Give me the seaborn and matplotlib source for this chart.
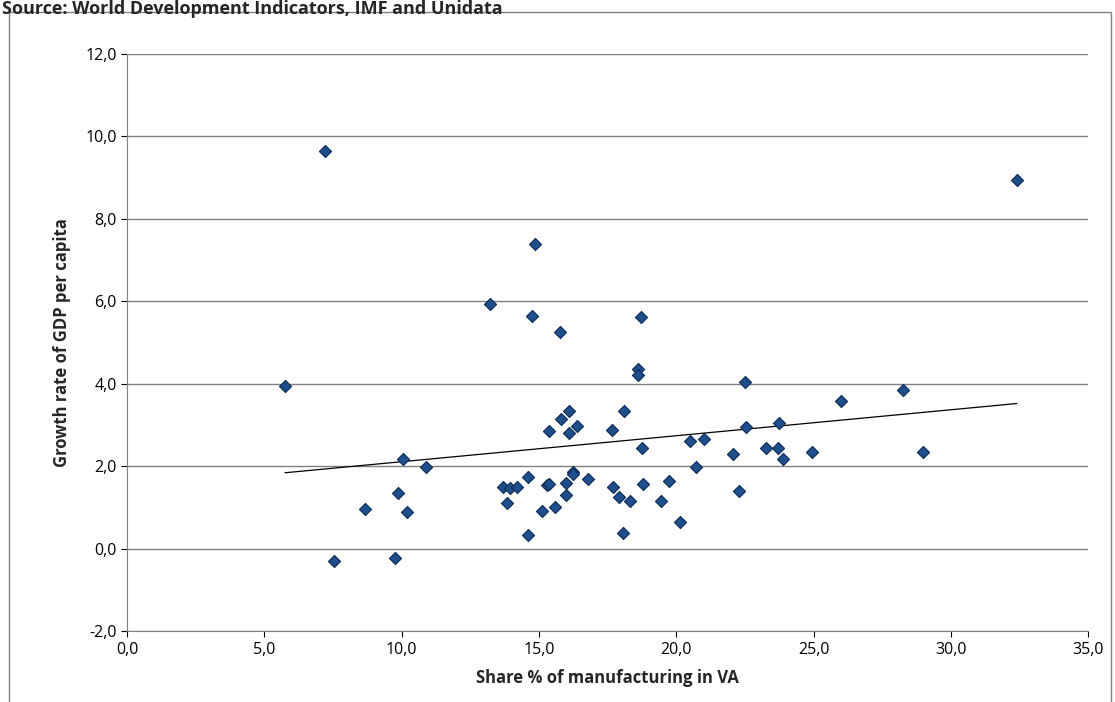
import numpy as np
import pandas as pd
import seaborn as sns
import matplotlib.pyplot as plt
from matplotlib.ticker import FuncFormatter
from matplotlib.patches import Rectangle

share_manuf = [5.75, 7.2, 7.55, 8.65, 9.75, 9.85, 10.05, 10.2, 10.9, 13.2, 13.7, 13.85,
               13.95, 14.2, 14.6, 14.6, 14.75, 14.85, 15.1, 15.3, 15.35, 15.35, 15.6, 15.75,
               15.8, 16.0, 16.0, 16.1, 16.1, 16.25, 16.25, 16.4, 16.8, 17.65, 17.7, 17.9,
               18.05, 18.1, 18.3, 18.6, 18.6, 18.7, 18.75, 18.8, 19.45, 19.75, 20.15, 20.5,
               20.7, 21.0, 22.05, 22.3, 22.5, 22.55, 23.25, 23.7, 23.75, 23.9, 24.95, 26.0,
               28.25, 29.0, 32.4]
gdp_growth = [3.95, 9.65, -0.3, 0.97, -0.22, 1.35, 2.18, 0.9, 1.98, 5.93, 1.5, 1.1,
              1.48, 1.5, 0.33, 1.75, 5.65, 7.38, 0.92, 1.55, 2.85, 1.58, 1.02, 5.25,
              3.15, 1.3, 1.6, 3.35, 2.8, 1.85, 1.8, 2.98, 1.7, 2.88, 1.5, 1.25,
              0.38, 3.35, 1.15, 4.35, 4.22, 5.62, 2.45, 1.58, 1.15, 1.65, 0.65, 2.6,
              1.97, 2.65, 2.3, 1.4, 4.05, 2.95, 2.45, 2.45, 3.05, 2.18, 2.35, 3.58,
              3.85, 2.35, 8.95]

df = pd.DataFrame({'share': share_manuf, 'growth': gdp_growth})

sns.set_style('white')
plt.rcParams['font.family'] = ['Open Sans', 'DejaVu Sans']

fig = plt.figure(figsize=(11.15, 7.02), dpi=100)
ax = fig.add_axes([0.114, 0.101, 0.862, 0.822])

sns.scatterplot(data=df, x='share', y='growth', marker='D', s=38,
                color='#1F4E8C', edgecolor='#0d2a55', linewidth=0.8, ax=ax, zorder=3)

# linear trendline over the data range
k, b = np.polyfit(df['share'], df['growth'], 1)
xs = np.array([df['share'].min(), df['share'].max()])
ax.plot(xs, k * xs + b, color='black', lw=0.9, zorder=2)

ax.set_xlim(0, 35)
ax.set_ylim(-2, 12)
ax.set_xticks(np.arange(0, 36, 5))
ax.set_yticks(np.arange(-2, 13, 2))
fmt = FuncFormatter(lambda v, p: f'{v:.1f}'.replace('.', ','))
ax.xaxis.set_major_formatter(fmt)
ax.yaxis.set_major_formatter(fmt)
ax.yaxis.grid(True, color='#808080', lw=1)
ax.set_axisbelow(True)
ax.tick_params(labelsize=11.5, length=4, direction='out', bottom=True, left=True, colors='black')
for s in ['top', 'right']:
    ax.spines[s].set_visible(False)
for s in ['left', 'bottom']:
    ax.spines[s].set_color('#808080')

ax.set_xlabel('Share % of manufacturing in VA', fontsize=12, fontweight='bold', labelpad=8)
ax.set_ylabel('Growth rate of GDP per capita', fontsize=12, fontweight='bold', labelpad=10)

# chart border and source line
fig.patches.append(Rectangle((0.008, -0.1), 0.988, 1.083, transform=fig.transFigure,
                             fill=False, edgecolor='#808080', lw=1))
fig.text(0.002, 1.0, 'Source: World Development Indicators, IMF and Unidata',
         fontsize=13, fontweight='bold', va='top', ha='left')

fig.savefig('out.png', dpi=100)
